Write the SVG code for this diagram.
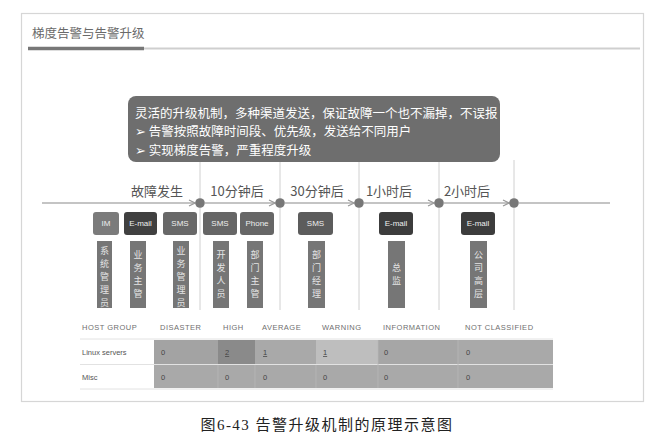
<svg xmlns="http://www.w3.org/2000/svg" width="654" height="442" viewBox="0 0 654 442">
<defs>
<marker id="arr" viewBox="0 0 8 8" refX="7" refY="4" markerWidth="8" markerHeight="8" markerUnits="userSpaceOnUse" orient="auto">
<path d="M1,1 L7,4 L1,7" fill="none" stroke="#999" stroke-width="1.2"/>
</marker>
<style>
.cjk{font-family:"Noto Sans CJK SC","Noto Sans",sans-serif;}
.lat{font-family:"Liberation Sans","Noto Sans CJK SC",sans-serif;}
.tl{font-size:13px;fill:#555;}
.vline{stroke:#d0d0d0;stroke-width:1;}
.tline{stroke:#c4c4c4;stroke-width:2;fill:none;}
.dot{fill:#777;}
.chan{font-size:8px;fill:#eee;text-anchor:middle;}
.tag{fill:#767676;}
.tagt{font-size:9px;fill:#e4e4e4;text-anchor:middle;}
.th{font-size:7.5px;fill:#6f6f6f;letter-spacing:0.5px;}
.rl{font-size:7.5px;fill:#555;}
.val{font-size:7.5px;fill:#444;}
.u{text-decoration:underline;}
</style>
</defs>
<rect width="654" height="442" fill="#fff"/>
<g id="frame">
<rect x="21.5" y="13.5" width="622" height="388" fill="#fff" stroke="#d6d6d6" stroke-width="1.2"/>
<text x="32" y="38" class="cjk" font-size="12.5" fill="#6a6a6a">梯度告警与告警升级</text>
<line x1="144" y1="48.5" x2="640" y2="48.5" stroke="#cfcfcf" stroke-width="2"/>
<line x1="28" y1="48.5" x2="144" y2="48.5" stroke="#777" stroke-width="3.5"/>
</g>
<g id="callout">
<rect x="128" y="96" width="372" height="66" rx="8" fill="#6e6e6e"/>
<text class="cjk" font-size="12.5" fill="#fff">
<tspan x="135" y="118">灵活的升级机制，多种渠道发送，保证故障一个也不漏掉，不误报</tspan>
<tspan x="135" y="136"><tspan font-family="DejaVu Sans" font-size="13">➢</tspan> 告警按照故障时间段、优先级，发送给不同用户</tspan>
<tspan x="135" y="155"><tspan font-family="DejaVu Sans" font-size="13">➢</tspan> 实现梯度告警，严重程度升级</tspan>
</text>
</g>
<g id="connectors">
<line class="vline" x1="200" y1="162" x2="200" y2="310"/>
<line class="vline" x1="280" y1="162" x2="280" y2="310"/>
<line class="vline" x1="359" y1="162" x2="359" y2="310"/>
<line class="vline" x1="439" y1="162" x2="439" y2="310"/>
<line class="vline" x1="514" y1="160" x2="514" y2="310"/>
<line class="tline" x1="42" y1="203" x2="195" y2="203" marker-end="url(#arr)"/>
<line class="tline" x1="205" y1="203" x2="275" y2="203" marker-end="url(#arr)"/>
<line class="tline" x1="285" y1="203" x2="354" y2="203" marker-end="url(#arr)"/>
<line class="tline" x1="364" y1="203" x2="434" y2="203" marker-end="url(#arr)"/>
<line class="tline" x1="444" y1="203" x2="509" y2="203" marker-end="url(#arr)"/>
<line class="tline" x1="519" y1="203" x2="610" y2="203"/>
</g>
<g id="t0">
<text x="157" y="196" class="cjk tl" text-anchor="middle">故障发生</text>
<circle class="dot" cx="200" cy="203" r="4.8"/>
</g>
<g id="t10">
<text x="237" y="196" class="cjk tl" text-anchor="middle">10分钟后</text>
<circle class="dot" cx="280" cy="203" r="4.8"/>
</g>
<g id="t30">
<text x="317" y="196" class="cjk tl" text-anchor="middle">30分钟后</text>
<circle class="dot" cx="359" cy="203" r="4.8"/>
</g>
<g id="t1h">
<text x="389" y="196" class="cjk tl" text-anchor="middle">1小时后</text>
<circle class="dot" cx="439" cy="203" r="4.8"/>
</g>
<g id="t2h">
<text x="467" y="196" class="cjk tl" text-anchor="middle">2小时后</text>
<circle class="dot" cx="514" cy="203" r="4.8"/>
</g>
<g id="ch-im">
<rect x="93" y="212" width="26" height="23" rx="3" fill="#7b7b7b"/>
<text x="106" y="226" class="lat chan">IM</text>
<rect class="tag" x="97" y="241" width="15" height="67"/>
<text class="cjk tagt"><tspan x="104.5" y="254">系</tspan><tspan x="104.5" y="267">统</tspan><tspan x="104.5" y="280">管</tspan><tspan x="104.5" y="293">理</tspan><tspan x="104.5" y="306">员</tspan></text>
</g>
<g id="ch-email1">
<rect x="124" y="212" width="33" height="23" rx="3" fill="#404040"/>
<text x="140.5" y="226" class="lat chan">E-mail</text>
<rect class="tag" x="130" y="241" width="16" height="67"/>
<text class="cjk tagt"><tspan x="138" y="258">业</tspan><tspan x="138" y="271">务</tspan><tspan x="138" y="284">主</tspan><tspan x="138" y="297">管</tspan></text>
</g>
<g id="ch-sms1">
<rect x="163" y="212" width="34" height="23" rx="3" fill="#686868"/>
<text x="180" y="226" class="lat chan">SMS</text>
<rect class="tag" x="173" y="241" width="16" height="67"/>
<text class="cjk tagt"><tspan x="181" y="254">业</tspan><tspan x="181" y="267">务</tspan><tspan x="181" y="280">管</tspan><tspan x="181" y="293">理</tspan><tspan x="181" y="306">员</tspan></text>
</g>
<g id="ch-sms2">
<rect x="203" y="212" width="34" height="23" rx="3" fill="#666"/>
<text x="220" y="226" class="lat chan">SMS</text>
<rect class="tag" x="213" y="241" width="16" height="67"/>
<text class="cjk tagt"><tspan x="221" y="258">开</tspan><tspan x="221" y="271">发</tspan><tspan x="221" y="284">人</tspan><tspan x="221" y="297">员</tspan></text>
</g>
<g id="ch-phone">
<rect x="240" y="212" width="34" height="23" rx="3" fill="#666"/>
<text x="257" y="226" class="lat chan">Phone</text>
<rect class="tag" x="247" y="241" width="16" height="67"/>
<text class="cjk tagt"><tspan x="255" y="258">部</tspan><tspan x="255" y="271">门</tspan><tspan x="255" y="284">主</tspan><tspan x="255" y="297">管</tspan></text>
</g>
<g id="ch-sms3">
<rect x="298" y="212" width="35" height="23" rx="3" fill="#5c5c5c"/>
<text x="315.5" y="226" class="lat chan">SMS</text>
<rect class="tag" x="308" y="241" width="17" height="67"/>
<text class="cjk tagt"><tspan x="316.5" y="258">部</tspan><tspan x="316.5" y="271">门</tspan><tspan x="316.5" y="284">经</tspan><tspan x="316.5" y="297">理</tspan></text>
</g>
<g id="ch-email2">
<rect x="379" y="212" width="34" height="23" rx="3" fill="#3c3c3c"/>
<text x="396" y="226" class="lat chan">E-mail</text>
<rect class="tag" x="388" y="241" width="17" height="67"/>
<text class="cjk tagt"><tspan x="396.5" y="271">总</tspan><tspan x="396.5" y="284">监</tspan></text>
</g>
<g id="ch-email3">
<rect x="461" y="212" width="34" height="23" rx="3" fill="#3c3c3c"/>
<text x="478" y="226" class="lat chan">E-mail</text>
<rect class="tag" x="470" y="241" width="17" height="67"/>
<text class="cjk tagt"><tspan x="478.5" y="258">公</tspan><tspan x="478.5" y="271">司</tspan><tspan x="478.5" y="284">高</tspan><tspan x="478.5" y="297">层</tspan></text>
</g>
<g id="table">
<text class="lat th" y="330"><tspan x="82">HOST GROUP</tspan><tspan x="160">DISASTER</tspan><tspan x="223">HIGH</tspan><tspan x="262">AVERAGE</tspan><tspan x="322">WARNING</tspan><tspan x="383">INFORMATION</tspan><tspan x="465">NOT CLASSIFIED</tspan></text>
<line x1="80" y1="339" x2="553" y2="339" stroke="#e2e2e2" stroke-width="1"/>
<line x1="80" y1="364.5" x2="553" y2="364.5" stroke="#e2e2e2" stroke-width="1"/>
<line x1="80" y1="389" x2="553" y2="389" stroke="#e2e2e2" stroke-width="1"/>
<rect x="154" y="340" width="64" height="24" fill="#a3a3a3"/>
<rect x="218" y="340" width="37" height="24" fill="#8a8a8a"/>
<rect x="255" y="340" width="61" height="24" fill="#a9a9a9"/>
<rect x="316" y="340" width="62" height="24" fill="#bebebe"/>
<rect x="378" y="340" width="80" height="24" fill="#a6a6a6"/>
<rect x="458" y="340" width="95" height="24" fill="#a9a9a9"/>
<rect x="154" y="365" width="399" height="23" fill="#a9a9a9"/>
<g stroke="#b8b8b8" stroke-width="0.8">
<line x1="218" y1="365" x2="218" y2="388"/>
<line x1="255" y1="365" x2="255" y2="388"/>
<line x1="316" y1="365" x2="316" y2="388"/>
<line x1="378" y1="340" x2="378" y2="388"/>
<line x1="458" y1="340" x2="458" y2="388"/>
</g>
<text class="lat rl" x="82" y="355">Linux servers</text>
<text class="lat rl" x="82" y="380">Misc</text>
<text class="lat val" y="355"><tspan x="161">0</tspan><tspan x="225" class="u">2</tspan><tspan x="263" class="u">1</tspan><tspan x="323" class="u">1</tspan><tspan x="384">0</tspan><tspan x="466">0</tspan></text>
<text class="lat val" y="380"><tspan x="161">0</tspan><tspan x="225">0</tspan><tspan x="263">0</tspan><tspan x="323">0</tspan><tspan x="384">0</tspan><tspan x="466">0</tspan></text>
</g>
<g id="caption">
<text x="327" y="430" font-family="'Liberation Serif','Noto Sans CJK SC',serif" font-size="15" letter-spacing="1.5" fill="#222" text-anchor="middle">图6-43 告警升级机制的原理示意图</text>
</g>
</svg>
